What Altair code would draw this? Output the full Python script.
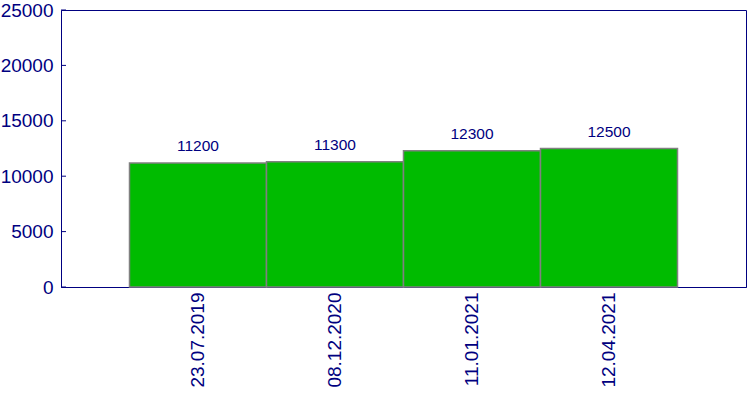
import altair as alt
import pandas as pd

dates = ["23.07.2019", "08.12.2020", "11.01.2021", "12.04.2021"]
values = [11200, 11300, 12300, 12500]
y_ticks = [0, 5000, 10000, 15000, 20000, 25000]

NAVY = "#000080"
FONT = "Liberation Sans"

df = pd.DataFrame({"date": dates, "value": values})
ticks_df = pd.DataFrame({"v": y_ticks})

x_enc = alt.X(
    "date:N",
    sort=dates,
    scale=alt.Scale(paddingInner=0, paddingOuter=0.5),
    axis=alt.Axis(
        title=None, labelAngle=270, labelAlign="right", labelBaseline="middle",
        labelFontSize=19, labelColor=NAVY, labelFont=FONT, ticks=False,
        labelPadding=5, domainColor=NAVY, domainWidth=1,
    ),
)
y_enc = alt.Y(
    "value:Q",
    scale=alt.Scale(domain=[0, 25000], nice=False),
    axis=alt.Axis(
        title=None, values=y_ticks, grid=False, ticks=False, format="d",
        labelFontSize=19, labelColor=NAVY, labelFont=FONT, labelPadding=8,
        domainColor=NAVY, domainWidth=1,
    ),
)

bars = alt.Chart(df).mark_bar(
    color="#00bb00", stroke="#808080", strokeWidth=1.5
).encode(x=x_enc, y=y_enc)

labels = alt.Chart(df).mark_text(
    dy=-9, baseline="bottom", fontSize=15.5, color=NAVY, font=FONT
).encode(x=alt.X("date:N", sort=dates), y="value:Q", text="value:Q")

tick_marks = alt.Chart(ticks_df).mark_rule(color=NAVY, strokeWidth=1).encode(
    y=alt.Y("v:Q"), x=alt.value(0), x2=alt.value(5)
)

chart = alt.layer(bars, labels, tick_marks).properties(
    width=685, height=277,
    autosize=alt.AutoSizeParams(type="none"),
    padding={"left": 61, "top": 10, "right": 4, "bottom": 113},
    background="white",
).configure_view(stroke=NAVY, strokeWidth=1)

chart.save("out.html", embed_options={"renderer": "svg", "actions": False})
